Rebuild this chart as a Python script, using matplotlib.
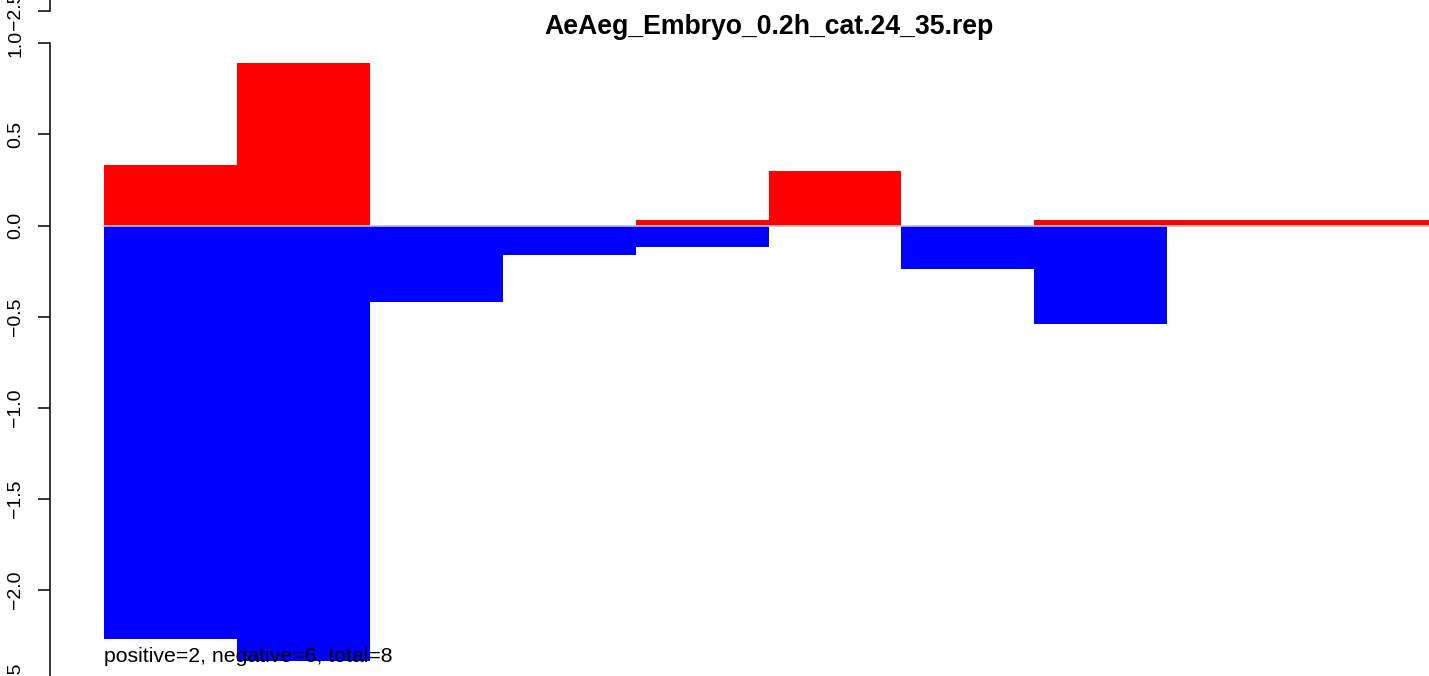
import matplotlib
matplotlib.use("Agg")
from matplotlib import pyplot as plt

plt.rcParams['font.family'] = ['Liberation Sans', 'DejaVu Sans']

title = "AeAeg_Embryo_0.2h_cat.24_35.rep"
note = "positive=2, negative=6, total=8"

# bar heights, one slot per bar
pos_vals = [0.33, 0.89, 0.0, 0.0, 0.03, 0.30, 0.0, 0.03, 0.03, 0.03]
neg_vals = [-2.27, -2.39, -0.42, -0.16, -0.12, 0.0, -0.24, -0.54, 0.0, 0.0]

yticks = [-2.5, -2.0, -1.5, -1.0, -0.5, 0.0, 0.5, 1.0]
ytick_labels = ["\u22122.5", "\u22122.0", "\u22121.5", "\u22121.0", "\u22120.5", "0.0", "0.5", "1.0"]

W, H = 1429, 676
fig = plt.figure(figsize=(W / 100, H / 100), dpi=100)

# pixel mapping: y value 0 at 225.6 px, 182.3 px per unit; bars start at 104 px, 132.9 px wide
y0px, ypu = 225.6, 182.3
x0px, xpu = 104.0, 132.9
ytop = y0px / ypu
ybot = -2.5
bot_px = y0px - ybot * ypu
left_px = 50.0
ax = fig.add_axes([left_px / W, (H - bot_px) / H, (W - left_px) / W, bot_px / H])
ax.set_xlim((left_px - x0px) / xpu, (W - x0px) / xpu)
ax.set_ylim(ybot, ytop)

xs = [i + 0.5 for i in range(len(pos_vals))]
ax.bar(xs, pos_vals, width=1.0, color="#ff0000", linewidth=0)
ax.bar(xs, neg_vals, width=1.0, color="#0000ff", linewidth=0)
ax.plot([0, 10], [0, 0], color="#bebebe", linewidth=1.2, zorder=3, clip_on=True)

for s in ["top", "right", "bottom"]:
    ax.spines[s].set_visible(False)
ax.spines["left"].set_bounds(ybot, 1.0)
ax.spines["left"].set_linewidth(1.1)
ax.set_xticks([])

# the next panel's -2.5 tick peeks in at the top
top_tick = 1.0 + (43.3 - 11.0) / ypu
ax.set_yticks(yticks + [top_tick])
ax.set_yticklabels(ytick_labels + ["\u22122.5"], rotation=90, va="center", fontsize=14)
ax.tick_params(axis="y", length=8.6, width=1.1, pad=10)
ax.plot([0, 0], [top_tick, ytop], color="black", linewidth=1.1,
        transform=ax.get_yaxis_transform(), clip_on=False)

ax.text(5.0, (y0px - 34.3) / ypu, title, ha="center", va="baseline",
        fontsize=19.2, fontweight="bold")
ax.text(0.0, (y0px - 662) / ypu, note, ha="left", va="baseline", fontsize=15.3, zorder=5)

fig.savefig("out.png", dpi=100)
